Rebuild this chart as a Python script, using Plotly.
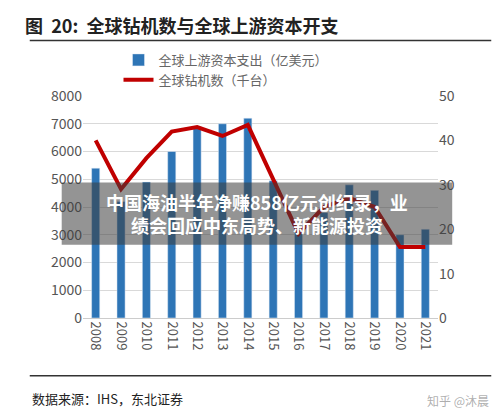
import plotly.graph_objects as go

years = [str(y) for y in range(2008, 2022)]
capex = [5400, 4200, 4900, 6000, 6900, 7000, 7200, 4950, 3300, 3800, 4800, 4600, 3000, 3200]
rigs = [40, 29, 36, 42, 43, 41, 43.5, 31, 19, 25, 27, 25, 16, 16]

fig = go.Figure()
fig.add_trace(go.Bar(x=years, y=capex, name="全球上游资本支出（亿美元）",
                     marker_color="#2e75b6", width=0.32))
fig.add_trace(go.Scatter(x=years, y=rigs, name="全球钻机数（千台）", yaxis="y2",
                         mode="lines", line=dict(color="#c00000", width=4)))

fig.update_layout(
    width=500, height=415, margin=dict(l=75, r=70, t=88, b=105),
    paper_bgcolor="white", plot_bgcolor="white", showlegend=True,
    font=dict(family="Noto Sans CJK SC", color="#555", size=13),
    legend=dict(x=0.1, y=1.23, xanchor="left", yanchor="top", bgcolor="rgba(0,0,0,0)",
                font=dict(size=13, color="#666"), tracegroupgap=0),
    xaxis=dict(tickangle=90, showgrid=False, showline=True, linecolor="#ccc",
               tickfont=dict(size=13, color="#555")),
    yaxis=dict(range=[0, 8000], dtick=1000, gridcolor="#d9d9d9", zeroline=False,
               tickfont=dict(size=14, color="#555")),
    yaxis2=dict(range=[0, 50], dtick=10, overlaying="y", side="right", showgrid=False,
                tickfont=dict(size=14, color="#555")),
    shapes=[
        dict(type="line", xref="paper", yref="paper", x0=-0.15, x1=1.15, y0=1.25, y1=1.25,
             line=dict(color="#333", width=1.5)),
        dict(type="line", xref="paper", yref="paper", x0=-0.15, x1=1.15, y0=-0.26, y1=-0.26,
             line=dict(color="#333", width=1.5)),
        dict(type="rect", xref="paper", yref="paper", x0=-0.06, x1=1.04, y0=0.33, y1=0.61,
             fillcolor="rgba(60,60,60,0.55)", line=dict(width=0)),
    ],
    annotations=[
        dict(text="<b>图  20:  全球钻机数与全球上游资本开支</b>", xref="paper", yref="paper",
             x=-0.17, y=1.32, xanchor="left", yanchor="middle", showarrow=False,
             font=dict(size=18, color="#222")),
        dict(text="数据来源：IHS，东北证券", xref="paper", yref="paper",
             x=-0.15, y=-0.31, xanchor="left", yanchor="top", showarrow=False,
             font=dict(size=13, color="#222")),
        dict(text="<b>中国海油半年净赚858亿元创纪录，业<br>绩会回应中东局势、新能源投资</b>",
             xref="paper", yref="paper", x=0.49, y=0.47, showarrow=False,
             font=dict(size=18, color="white")),
        dict(text="知乎 @沐晨", xref="paper", yref="paper", x=1.15, y=-0.42,
             xanchor="right", showarrow=False, font=dict(size=12, color="rgba(120,120,120,0.6)")),
    ],
)
fig.write_html("out.html")
